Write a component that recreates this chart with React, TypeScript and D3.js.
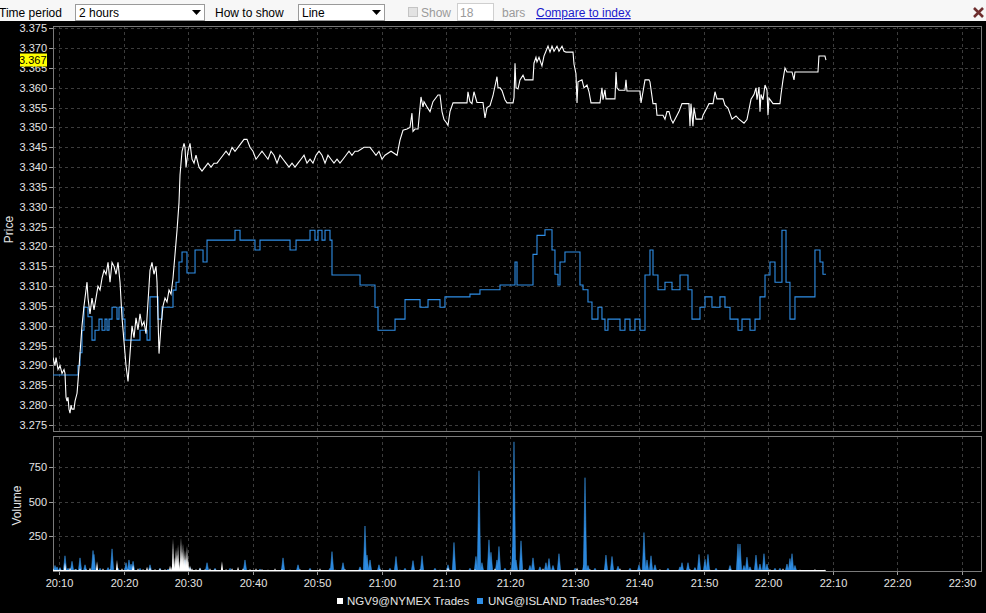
import React from "react";
import * as d3 from "d3";

// ---- data (time = minutes after 20:00) ----
const ngvPrice: [number, number][] = [
  [9.02,3.292],[9.33,3.290],[9.49,3.292],[9.80,3.289],[10.11,3.290],[10.42,3.288],[10.73,3.289],[10.88,3.288],[11.04,3.282],[11.19,3.281],[11.35,3.282],[11.50,3.279],[11.66,3.278],[11.82,3.280],[11.97,3.279],[12.28,3.279],[12.44,3.281],[12.75,3.283],[12.90,3.286],[13.21,3.293],[13.52,3.300],[13.83,3.305],[14.14,3.309],[14.30,3.311],[14.45,3.307],[14.76,3.303],[15.07,3.307],[15.38,3.304],[15.69,3.307],[16.00,3.310],[16.32,3.309],[16.63,3.312],[16.94,3.314],[17.25,3.313],[17.56,3.316],[17.87,3.311],[18.18,3.316],[18.49,3.315],[18.80,3.313],[19.11,3.316],[19.42,3.311],[19.73,3.302],[20.04,3.296],[20.35,3.290],[20.66,3.286],[20.97,3.293],[21.28,3.300],[21.59,3.297],[21.90,3.302],[22.21,3.299],[22.52,3.303],[22.83,3.300],[23.14,3.301],[23.45,3.298],[23.76,3.306],[24.07,3.314],[24.38,3.316],[24.69,3.313],[25.00,3.315],[25.16,3.311],[25.47,3.293],[25.78,3.300],[26.09,3.305],[26.40,3.307],[26.71,3.306],[27.02,3.309],[27.33,3.308],[27.64,3.312],[27.95,3.318],[28.26,3.324],[28.57,3.331],[28.73,3.338],[29.04,3.344],[29.35,3.346],[29.50,3.345],[29.66,3.340],[29.97,3.344],[30.28,3.346],[30.59,3.342],[30.90,3.341],[31.21,3.343],[31.68,3.340],[32.14,3.339],[32.61,3.340],[33.07,3.341],[33.54,3.340],[34.00,3.341],[34.47,3.341],[34.93,3.342],[35.40,3.343],[35.87,3.344],[36.33,3.343],[36.80,3.345],[37.26,3.344],[37.73,3.345],[38.19,3.346],[38.66,3.347],[39.12,3.347],[39.59,3.345],[40.05,3.344],[40.52,3.342],[40.98,3.343],[41.45,3.344],[41.92,3.343],[42.38,3.342],[42.85,3.344],[43.31,3.343],[43.78,3.341],[44.24,3.343],[44.71,3.342],[45.17,3.341],[45.64,3.340],[46.11,3.341],[46.57,3.340],[47.04,3.341],[47.50,3.342],[47.97,3.343],[48.43,3.341],[48.90,3.342],[49.36,3.341],[49.83,3.343],[50.30,3.344],[50.76,3.343],[51.23,3.341],[51.69,3.343],[52.16,3.342],[52.62,3.341],[53.09,3.342],[53.55,3.341],[54.02,3.342],[54.48,3.343],[54.95,3.344],[55.41,3.343],[55.88,3.344],[56.35,3.344],[57.28,3.345],[58.21,3.345],[58.67,3.344],[59.14,3.343],[59.60,3.344],[60.07,3.342],[60.53,3.343],[61.47,3.344],[62.40,3.343],[62.86,3.3468],[63.33,3.3493],[63.95,3.3496],[64.41,3.350],[64.72,3.3536],[64.88,3.349],[65.19,3.3496],[65.66,3.3496],[66.12,3.3577],[66.43,3.3552],[66.59,3.3565],[67.05,3.3552],[67.52,3.354],[67.98,3.3565],[68.76,3.3582],[69.07,3.3582],[69.38,3.354],[69.69,3.352],[70.16,3.351],[70.31,3.3505],[70.62,3.354],[71.09,3.3562],[73.26,3.3562],[73.41,3.359],[73.72,3.3565],[74.03,3.356],[74.34,3.359],[74.81,3.3563],[75.74,3.3563],[76.05,3.3524],[76.36,3.355],[76.83,3.3555],[77.29,3.358],[77.91,3.3628],[78.07,3.360],[78.38,3.360],[78.69,3.3593],[79.15,3.357],[79.47,3.3562],[80.40,3.3562],[80.55,3.3575],[80.71,3.3662],[80.86,3.360],[81.17,3.3597],[81.48,3.362],[81.95,3.3632],[82.26,3.362],[83.50,3.362],[83.65,3.3662],[83.96,3.3677],[84.12,3.3665],[84.43,3.3677],[84.89,3.3655],[85.20,3.368],[85.51,3.3692],[85.83,3.3705],[86.14,3.369],[86.45,3.3705],[86.76,3.3692],[87.22,3.3705],[87.53,3.3692],[88.00,3.3705],[88.31,3.3692],[88.62,3.369],[89.71,3.369],[89.86,3.366],[90.17,3.3635],[90.33,3.3562],[90.48,3.3615],[91.10,3.362],[91.41,3.360],[91.88,3.3607],[92.19,3.359],[92.50,3.3562],[93.89,3.3562],[94.20,3.360],[94.36,3.357],[94.67,3.3595],[94.82,3.3572],[96.22,3.3572],[96.38,3.364],[96.53,3.360],[96.84,3.3594],[97.77,3.3594],[97.93,3.362],[98.08,3.3592],[100.10,3.3592],[100.26,3.3562],[100.57,3.359],[100.88,3.362],[101.50,3.362],[101.65,3.3615],[102.12,3.356],[102.58,3.356],[102.74,3.3531],[103.67,3.3531],[103.98,3.3521],[104.29,3.354],[104.60,3.354],[104.91,3.3521],[105.22,3.3511],[105.53,3.3521],[106.15,3.354],[106.62,3.356],[107.70,3.356],[107.86,3.3503],[108.01,3.356],[108.32,3.3503],[108.48,3.355],[108.79,3.3521],[109.72,3.3521],[109.88,3.3531],[110.50,3.355],[110.81,3.356],[111.43,3.356],[111.74,3.359],[112.05,3.3572],[112.98,3.3572],[113.29,3.3556],[113.76,3.3549],[114.38,3.3521],[115.00,3.3529],[115.46,3.3521],[116.24,3.3511],[116.70,3.352],[117.33,3.3571],[117.79,3.3583],[118.10,3.360],[118.26,3.357],[118.57,3.3602],[118.72,3.354],[118.88,3.3583],[119.19,3.357],[119.50,3.3607],[119.81,3.3594],[119.96,3.3531],[120.12,3.3574],[120.74,3.356],[121.82,3.356],[121.98,3.3583],[122.29,3.362],[122.60,3.365],[122.91,3.364],[123.69,3.364],[124.00,3.362],[124.15,3.364],[127.72,3.364],[127.87,3.368],[128.80,3.368],[128.96,3.367]
];

const ungPrice: [number, number][] = [
  [9.02,3.2876],[12.90,3.2900],[13.21,3.2932],[13.52,3.2989],[13.83,3.3047],[14.45,3.3023],[15.07,3.2964],[15.54,3.2989],[16.16,3.3017],[16.63,3.2989],[17.09,3.3017],[17.40,3.2989],[17.71,3.3017],[18.18,3.3047],[18.95,3.3017],[19.26,3.3047],[19.88,3.3017],[20.19,3.2964],[22.52,3.2989],[23.61,3.2964],[24.07,3.3073],[25.31,3.3017],[25.93,3.3047],[27.64,3.3090],[28.11,3.3110],[28.57,3.3161],[29.04,3.3186],[29.81,3.3133],[31.06,3.3191],[32.30,3.3161],[32.92,3.3216],[37.26,3.3241],[38.04,3.3216],[40.36,3.3191],[41.14,3.3216],[45.80,3.3191],[46.73,3.3216],[48.90,3.3241],[49.67,3.3216],[50.14,3.3241],[50.76,3.3216],[51.23,3.3241],[52.00,3.3216],[52.31,3.3128],[56.66,3.3103],[58.98,3.3047],[59.45,3.2989],[62.09,3.3017],[63.64,3.3066],[65.97,3.3047],[67.21,3.3066],[69.07,3.3047],[69.84,3.3073],[73.72,3.3080],[75.27,3.3091],[78.38,3.3103],[80.71,3.3161],[81.02,3.3103],[83.50,3.3180],[84.12,3.3228],[85.36,3.3242],[86.45,3.3191],[86.91,3.3130],[87.38,3.3103],[87.69,3.3161],[88.46,3.3186],[90.79,3.3103],[91.26,3.3091],[92.03,3.3060],[92.65,3.3017],[93.58,3.3047],[94.20,3.3017],[94.67,3.2989],[95.13,3.3017],[97.00,3.2989],[97.77,3.3017],[98.55,3.2989],[99.32,3.3017],[100.10,3.2989],[100.88,3.3128],[101.65,3.3191],[102.12,3.3128],[102.89,3.3091],[103.98,3.3110],[105.07,3.3091],[106.31,3.3128],[107.55,3.3091],[108.17,3.3017],[109.41,3.3047],[110.19,3.3073],[111.27,3.3047],[112.51,3.3073],[113.29,3.3047],[114.07,3.3017],[115.31,3.2989],[115.93,3.3017],[117.17,3.2989],[117.95,3.3017],[118.72,3.3073],[119.50,3.3128],[120.27,3.3161],[121.05,3.3110],[122.13,3.3241],[122.76,3.3110],[123.37,3.3017],[124.15,3.3073],[127.25,3.3191],[128.03,3.3161],[128.49,3.3130],[128.96,3.3130]
];

const ungVolume: [number, number][] = [
  [9.33,40],[9.64,30],[10.11,25],[10.88,110],[11.35,20],[11.97,70],[12.59,15],[13.21,95],[13.99,45],[15.23,148],[15.38,120],[16.32,20],[17.56,25],[18.18,160],[19.11,20],[20.35,60],[20.81,80],[21.13,50],[21.44,70],[22.52,20],[24.07,45],[25.62,20],[26.87,15],[28.42,30],[29.50,80],[30.28,25],[31.83,20],[32.92,60],[34.16,20],[36.49,20],[38.81,80],[41.14,15],[44.71,95],[47.04,45],[48.90,20],[52.00,20],[52.31,140],[54.02,60],[56.66,30],[57.43,325],[57.74,115],[58.21,80],[59.60,45],[61.31,20],[62.24,105],[63.64,20],[64.88,75],[66.28,110],[68.29,20],[70.31,45],[71.24,206],[73.72,20],[74.65,105],[75.12,724],[75.58,60],[76.67,225],[76.98,135],[77.91,80],[78.22,177],[79.15,20],[80.40,170],[80.55,933],[80.86,80],[81.64,218],[83.03,40],[83.50,95],[84.58,30],[85.51,60],[85.98,90],[86.60,40],[87.53,125],[90.02,20],[91.41,45],[91.57,674],[92.03,40],[93.12,20],[94.82,115],[95.76,105],[96.69,35],[98.55,20],[99.95,45],[100.72,278],[101.19,80],[101.81,110],[102.43,45],[104.44,20],[106.31,30],[106.62,60],[107.55,60],[108.63,25],[109.26,120],[110.19,85],[110.65,120],[111.90,20],[114.07,40],[115.31,196],[115.62,195],[116.24,40],[116.70,100],[117.17,30],[118.10,115],[118.72,50],[119.34,125],[119.81,50],[121.05,20],[121.82,20],[122.91,50],[123.37,90],[123.69,125],[124.15,40]
];

const ngvVolume: [number, number][] = [
  [9.02,20],[10.11,15],[10.88,60],[11.66,25],[12.44,15],[13.21,20],[14.14,15],[14.76,25],[15.85,70],[16.78,20],[17.87,15],[18.95,80],[19.73,20],[20.66,15],[21.44,45],[22.21,20],[22.99,15],[23.61,30],[24.07,25],[24.85,15],[25.62,20],[26.40,15],[27.18,40],[27.49,30],[27.64,232],[27.95,100],[28.11,168],[28.26,120],[28.42,190],[28.73,80],[28.88,242],[29.04,140],[29.19,200],[29.35,110],[29.50,150],[29.66,100],[29.81,180],[29.97,90],[30.28,40],[30.59,20],[31.21,15],[31.83,25],[32.61,15],[33.38,20],[34.16,15],[35.24,70],[35.87,15],[36.80,20],[37.73,30],[38.50,20],[39.59,15],[40.52,20],[41.45,15],[42.38,10],[43.47,20],[44.55,15],[45.80,10],[47.35,15],[48.90,10],[50.45,20],[52.78,10],[54.33,15],[56.66,10],[59.76,15],[62.86,10],[65.97,15],[69.07,10],[70.31,25],[72.17,10],[74.50,15],[77.60,20],[79.93,10],[82.26,15],[85.05,20],[87.69,10],[90.33,25],[92.34,15],[94.67,10],[97.00,20],[100.10,10],[103.20,15],[107.86,15],[110.96,10],[114.07,15],[117.17,10],[120.27,15],[122.29,20],[124.93,10],[127.25,15],[128.80,10]
];

const priceTicks = [3.275,3.28,3.285,3.29,3.295,3.3,3.305,3.31,3.315,3.32,3.325,3.33,3.335,3.34,3.345,3.35,3.355,3.36,3.365,3.37,3.375];
const volumeTicks = [250, 500, 750];
const timeTickMinutes = [10,20,30,40,50,60,70,80,90,100,110,120,130,140,150];
const lastPrice = 3.367;
const seriesNames = ["NGV9@NYMEX Trades", "UNG@ISLAND Trades*0.284"];

// ---- layout ----
const W = 986, H = 613;
const L = 53, R = 982;
const pTop = 26, pBot = 431;
const vTop = 436, vBot = 571;
const FONT = "'Liberation Sans', Arial, sans-serif";
const base = new Date(2009, 7, 20, 20, 0, 0).getTime();
const toDate = (m: number) => new Date(base + m * 60000);

export default function App() {
  const x = d3.scaleTime().domain([toDate(9.02), toDate(153.17)]).range([L, R]);
  const yP = d3.scaleLinear().domain([3.275, 3.375]).range([425, 28.3]);
  const yV = d3.scaleLinear().domain([0, 975]).range([vBot, vTop]);
  const fmtT = d3.timeFormat("%H:%M");
  const fmtP = d3.format(".3f");

  const line = d3.line<[number, number]>().x(d => x(toDate(d[0]))).y(d => yP(d[1]));
  const stepLine = d3.line<[number, number]>().x(d => x(toDate(d[0]))).y(d => yP(d[1])).curve(d3.curveStepAfter);
  const spike = (d: [number, number], hw: number) => {
    const cx = x(toDate(d[0]));
    return `M${cx - hw},${yV(0)}L${cx},${yV(d[1])}L${cx + hw},${yV(0)}Z`;
  };
  const grid = "#3c3c3c";
  const txt = "#e4e4e4";

  return (
    <svg width={W} height={H} style={{ position: "absolute", left: 0, top: 0, display: "block", fontFamily: FONT }}>
      <defs>
        <clipPath id="cp"><rect x={L} y={pTop} width={R - L} height={pBot - pTop} /></clipPath>
        <clipPath id="cv"><rect x={L} y={vTop} width={R - L} height={vBot - vTop} /></clipPath>
      </defs>
      <rect x={0} y={0} width={W} height={H} fill="#000" />
      {/* toolbar */}
      <rect x={0} y={0} width={W} height={21} fill="#f7f7f7" />
      <text x={-1} y={17} fontSize={12} fill="#000">Time period</text>
      <rect x={75.5} y={4.5} width={129} height={16} fill="#fff" stroke="#9a9a9a" />
      <text x={79} y={17} fontSize={12} fill="#000">2 hours</text>
      <path d="M192,10L201,10L196.5,15Z" fill="#000" />
      <text x={215} y={17} fontSize={12} fill="#000">How to show</text>
      <rect x={298.5} y={4.5} width={86} height={16} fill="#fff" stroke="#9a9a9a" />
      <text x={302} y={17} fontSize={12} fill="#000">Line</text>
      <path d="M372,10L381,10L376.5,15Z" fill="#000" />
      <rect x={408.5} y={7.5} width={9} height={9} fill="#e2e2e2" stroke="#c4c4c4" />
      <text x={421} y={17} fontSize={12} fill="#9a9a9a">Show</text>
      <rect x={457.5} y={3.5} width={36} height={17} fill="#fff" stroke="#cfcfcf" />
      <text x={460} y={17} fontSize={12} fill="#9a9a9a">18</text>
      <text x={502} y={17} fontSize={12} fill="#9a9a9a">bars</text>
      <text x={536} y={17} fontSize={12} fill="#1a1acc" textDecoration="underline">Compare to index</text>
      <path d="M974,8L983,17M983,8L974,17" stroke="#6e2e2e" strokeWidth={2.6} />

      {/* grids */}
      {priceTicks.map(t => (
        <line key={"gp" + t} x1={L} x2={R} y1={Math.round(yP(t)) + 0.5} y2={Math.round(yP(t)) + 0.5} stroke={grid} strokeDasharray="3,3" />
      ))}
      {volumeTicks.map(t => (
        <line key={"gv" + t} x1={L} x2={R} y1={Math.round(yV(t)) + 0.5} y2={Math.round(yV(t)) + 0.5} stroke={grid} strokeDasharray="3,3" />
      ))}
      {timeTickMinutes.map(m => {
        const xx = Math.round(x(toDate(m))) + 0.5;
        return (
          <g key={"gt" + m}>
            <line x1={xx} x2={xx} y1={pTop} y2={pBot} stroke={grid} strokeDasharray="3,3" />
            <line x1={xx} x2={xx} y1={vTop} y2={vBot} stroke={grid} strokeDasharray="3,3" />
            <line x1={xx} x2={xx} y1={vBot} y2={vBot + 4} stroke="#9a9a9a" />
            <text x={xx} y={587} fontSize={11} fill={txt} textAnchor="middle">{fmtT(toDate(m))}</text>
          </g>
        );
      })}

      {/* frames */}
      <rect x={L + 0.5} y={pTop + 0.5} width={R - L - 1} height={pBot - pTop} fill="none" stroke="#7a7a7a" />
      <rect x={L + 0.5} y={vTop + 0.5} width={R - L - 1} height={vBot - vTop} fill="none" stroke="#7a7a7a" />

      {/* price y axis */}
      {priceTicks.map(t => (
        <g key={"tp" + t}>
          <line x1={49} x2={L} y1={Math.round(yP(t)) + 0.5} y2={Math.round(yP(t)) + 0.5} stroke="#9a9a9a" />
          <text x={47} y={yP(t) + 4} fontSize={11} fill={txt} textAnchor="end">{fmtP(t)}</text>
        </g>
      ))}
      {volumeTicks.map(t => (
        <g key={"tv" + t}>
          <line x1={49} x2={L} y1={Math.round(yV(t)) + 0.5} y2={Math.round(yV(t)) + 0.5} stroke="#9a9a9a" />
          <text x={47} y={yV(t) + 4} fontSize={11} fill={txt} textAnchor="end">{t}</text>
        </g>
      ))}
      <text transform={`translate(13,${(pTop + pBot) / 2 + 1}) rotate(-90)`} fontSize={12} fill={txt} textAnchor="middle">Price</text>
      <text transform={`translate(21,${(vTop + vBot) / 2 + 2}) rotate(-90)`} fontSize={12} fill={txt} textAnchor="middle">Volume</text>

      {/* last price marker */}
      <rect x={20} y={yP(lastPrice) - 6.5} width={27} height={13} fill="#ffff00" />
      <text x={46.5} y={yP(lastPrice) + 4} fontSize={11} fill="#000" textAnchor="end">{fmtP(lastPrice)}</text>

      {/* price lines */}
      <g clipPath="url(#cp)">
        <path d={stepLine(ungPrice) || ""} fill="none" stroke="#2f8ee6" strokeWidth={1.1} />
        <path d={line(ngvPrice) || ""} fill="none" stroke="#ffffff" strokeWidth={1.1} />
      </g>

      {/* volume */}
      <g clipPath="url(#cv)">
        {ungVolume.map((d, i) => (
          <path key={"uv" + i} d={spike(d, 1.7)} fill="#2a86dc" stroke="#3d9cf0" strokeWidth={0.5} />
        ))}
        {ngvVolume.map((d, i) => (
          <path key={"nv" + i} d={spike(d, 1.2)} fill="#ffffff" />
        ))}
        <line x1={x(toDate(ngvVolume[0][0]))} x2={x(toDate(ngvVolume[ngvVolume.length - 1][0]))} y1={yV(0) - 0.5} y2={yV(0) - 0.5} stroke="#ffffff" strokeWidth={1} />
      </g>

      {/* legend */}
      <rect x={337} y={598} width={6} height={6} fill="#ffffff" />
      <text x={347} y={605} fontSize={11.5} fill={txt}>{seriesNames[0]}</text>
      <rect x={477} y={598} width={6} height={6} fill="#2f8ee6" />
      <text x={488} y={605} fontSize={11.5} fill={txt}>{seriesNames[1]}</text>
    </svg>
  );
}
